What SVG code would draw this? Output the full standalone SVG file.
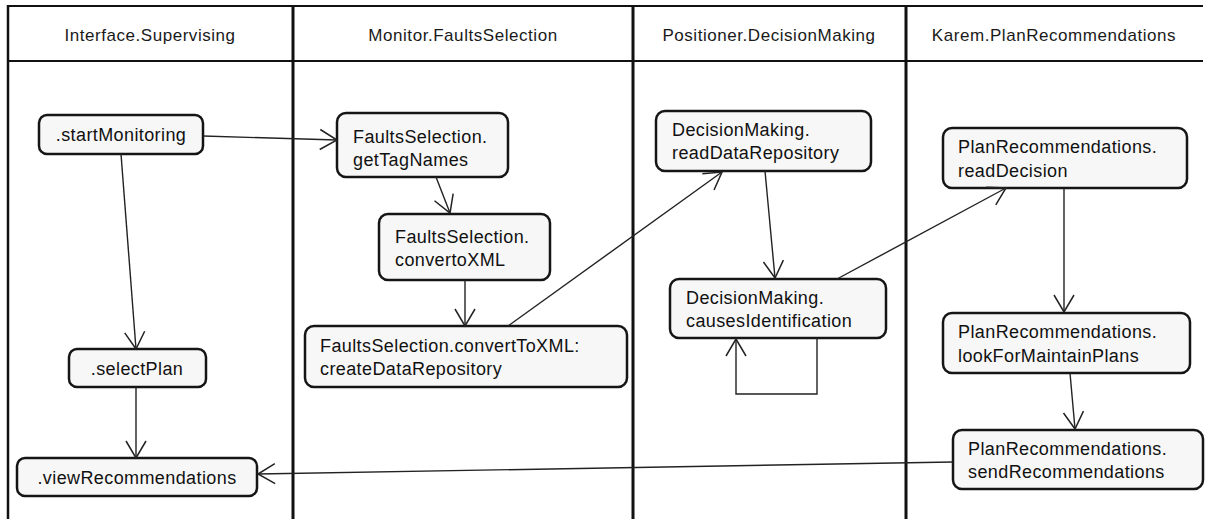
<svg xmlns="http://www.w3.org/2000/svg" width="1205" height="519" viewBox="0 0 1205 519">
<style>
.lane{stroke:#111;fill:none}
.hdr{font-family:"Liberation Sans",Arial,sans-serif;font-size:17px;fill:#1a1a1a;text-anchor:middle;letter-spacing:0.55px}
.box{fill:#f7f7f7;stroke:#151515;stroke-width:2.5}
.t{font-family:"Liberation Sans",Arial,sans-serif;font-size:18px;fill:#111;letter-spacing:0.4px}
.c{text-anchor:middle}
.conn path,.conn line,.conn polyline{stroke:#222;stroke-width:1.4;fill:none}
</style>
<defs>
<marker id="arr" markerUnits="userSpaceOnUse" markerWidth="40" markerHeight="40" refX="0" refY="0" viewBox="-20 -20 40 40" orient="auto">
<path d="M-17,-10 L0,0 L-17,10" fill="none" stroke="#222" stroke-width="1.5"/>
</marker>
</defs>
<rect width="1205" height="519" fill="#ffffff"/>
<g id="lanes">
<line class="lane" x1="8" y1="6" x2="1203" y2="6" stroke-width="2"/>
<line class="lane" x1="8" y1="61" x2="1203" y2="61" stroke-width="2"/>
<line class="lane" x1="8" y1="5" x2="8" y2="519" stroke-width="2.5"/>
<line class="lane" x1="293" y1="5" x2="293" y2="519" stroke-width="3"/>
<line class="lane" x1="633" y1="5" x2="633" y2="519" stroke-width="3"/>
<line class="lane" x1="906" y1="5" x2="906" y2="519" stroke-width="3"/>
<text class="hdr" x="150" y="41">Interface.Supervising</text>
<text class="hdr" x="463" y="41">Monitor.FaultsSelection</text>
<text class="hdr" x="769" y="41">Positioner.DecisionMaking</text>
<text class="hdr" x="1054" y="41">Karem.PlanRecommendations</text>
</g>
<g id="n_startMonitoring"><rect class="box" x="39" y="115" width="164" height="39" rx="8"/><text class="t c" x="121" y="141">.startMonitoring</text></g>
<g id="n_selectPlan"><rect class="box" x="69" y="349" width="137" height="38" rx="8"/><text class="t c" x="137" y="375">.selectPlan</text></g>
<g id="n_viewRecommendations"><rect class="box" x="17" y="458" width="240" height="38" rx="8"/><text class="t c" x="137" y="484">.viewRecommendations</text></g>
<g id="n_getTagNames"><rect class="box" x="337" y="113" width="171" height="64" rx="9"/><text class="t" x="353" y="143">FaultsSelection.</text><text class="t" x="353" y="166">getTagNames</text></g>
<g id="n_convertoXML"><rect class="box" x="379" y="214" width="171" height="66" rx="9"/><text class="t" x="395" y="243">FaultsSelection.</text><text class="t" x="395" y="266">convertoXML</text></g>
<g id="n_createDataRepository"><rect class="box" x="305" y="326" width="322" height="61" rx="9"/><text class="t" x="320" y="352">FaultsSelection.convertToXML:</text><text class="t" x="320" y="375">createDataRepository</text></g>
<g id="n_readDataRepository"><rect class="box" x="656" y="111" width="215" height="60" rx="9"/><text class="t" x="672" y="136">DecisionMaking.</text><text class="t" x="672" y="159">readDataRepository</text></g>
<g id="n_causesIdentification"><rect class="box" x="670" y="279" width="216" height="59" rx="9"/><text class="t" x="686" y="304">DecisionMaking.</text><text class="t" x="686" y="327">causesIdentification</text></g>
<g id="n_readDecision"><rect class="box" x="943" y="128" width="244" height="60" rx="9"/><text class="t" x="958" y="153">PlanRecommendations.</text><text class="t" x="958" y="177">readDecision</text></g>
<g id="n_lookForMaintainPlans"><rect class="box" x="943" y="313" width="247" height="60" rx="9"/><text class="t" x="958" y="338">PlanRecommendations.</text><text class="t" x="958" y="362">lookForMaintainPlans</text></g>
<g id="n_sendRecommendations"><rect class="box" x="953" y="430" width="250" height="59" rx="9"/><text class="t" x="968" y="455">PlanRecommendations.</text><text class="t" x="968" y="478">sendRecommendations</text></g>
<g id="connectors" class="conn">
<line x1="203" y1="136" x2="337" y2="140" marker-end="url(#arr)"/>
<line x1="121" y1="154" x2="136" y2="349" marker-end="url(#arr)"/>
<line x1="136" y1="387" x2="136" y2="458" marker-end="url(#arr)"/>
<line x1="436" y1="177" x2="450" y2="213" marker-end="url(#arr)"/>
<line x1="465" y1="280" x2="465" y2="326" marker-end="url(#arr)"/>
<line x1="508" y1="326" x2="722" y2="172" marker-end="url(#arr)"/>
<line x1="765" y1="171" x2="775" y2="278" marker-end="url(#arr)"/>
<polyline points="817,338 817,394 736,394 736,339" marker-end="url(#arr)"/>
<line x1="837" y1="279" x2="1006" y2="188" marker-end="url(#arr)"/>
<line x1="1064" y1="188" x2="1064" y2="312" marker-end="url(#arr)"/>
<line x1="1070" y1="373" x2="1075" y2="429" marker-end="url(#arr)"/>
<line x1="953" y1="462" x2="258" y2="474" marker-end="url(#arr)"/>
</g>
</svg>
